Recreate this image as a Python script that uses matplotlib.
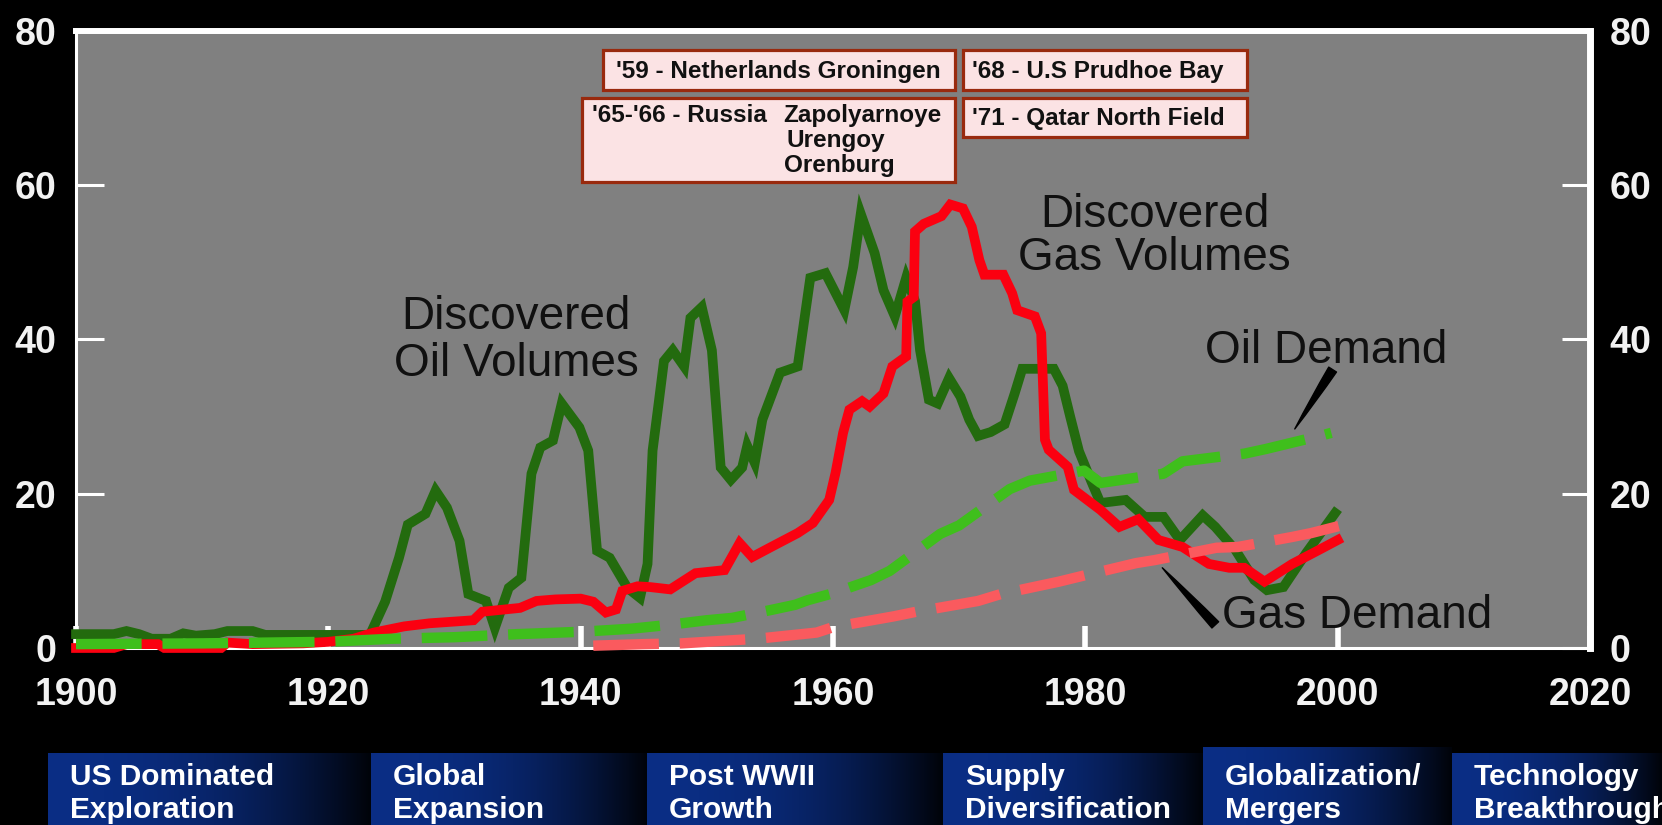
import matplotlib
matplotlib.use("Agg")
import numpy as np
import matplotlib.pyplot as plt
from matplotlib.patches import Rectangle

plt.rcParams['font.family'] = ['Liberation Sans', 'DejaVu Sans']

# ---------------- data ----------------
oil_disc_years = [1900, 1903, 1904, 1905, 1906, 1907.5, 1908.5, 1909.5, 1911, 1912, 1914, 1915, 1920,
                  1923.3, 1924.5, 1925.6, 1926.3, 1927.7, 1928.5, 1929.4, 1930.4, 1931.1, 1932.5, 1933.2,
                  1934.3, 1935.3, 1936.1, 1936.8, 1937.8, 1938.5, 1939.9, 1940.6, 1941.3, 1942.3, 1943.7,
                  1944.7, 1945.3, 1945.7, 1946.2, 1946.6, 1947.3, 1948.2, 1948.7, 1949.6, 1950.4, 1951.1,
                  1951.9, 1952.8, 1953.2, 1953.8, 1954.4, 1955.8, 1957.2, 1958.2, 1959.4, 1960.9, 1961.6,
                  1962.2, 1963.3, 1964.0, 1964.9, 1965.8, 1966.5, 1966.9, 1967.6, 1968.3, 1969.2, 1970.1,
                  1970.8, 1971.5, 1972.5, 1973.6, 1974.4, 1975.0, 1977.5, 1978.2, 1978.8, 1979.5, 1980.5,
                  1981.2, 1983.2, 1984.7, 1986.2, 1987.5, 1989.3, 1990.3, 1991.9, 1993.4, 1994.4, 1995.7,
                  1997.5, 1999.8]
oil_disc_values = [1.8, 1.8, 2.2, 1.8, 1.2, 1.2, 1.9, 1.6, 1.8, 2.2, 2.2, 1.7, 1.7,
                   1.7, 6.0, 11.7, 16.0, 17.4, 20.4, 18.2, 13.9, 7.0, 6.1, 2.6,
                   7.8, 9.1, 22.6, 26.0, 26.9, 31.7, 28.6, 25.6, 12.6, 11.7, 7.8,
                   6.5, 10.9, 25.6, 32.0, 37.2, 38.6, 36.5, 42.8, 44.2, 38.6, 23.4,
                   21.8, 23.4, 26.2, 24.0, 29.6, 35.7, 36.5, 48.0, 48.6, 43.8, 49.4,
                   56.3, 51.2, 46.4, 43.0, 48.0, 45.0, 38.6, 32.2, 31.7, 35.0, 32.6,
                   29.6, 27.5, 28.0, 29.0, 33.0, 36.2, 36.2, 34.0, 30.0, 25.5, 21.5,
                   18.8, 19.2, 17.0, 17.0, 14.0, 17.2, 15.7, 12.7, 8.8, 7.5, 7.9,
                   12.3, 17.5]

gas_disc_years = [1900, 1903, 1904, 1906.5, 1907, 1911.5, 1912, 1914, 1918, 1920, 1922, 1923.6, 1926,
                  1928, 1931.5, 1932.2, 1935.2, 1936.5, 1938, 1940, 1941, 1942, 1942.8, 1943.3, 1944.5,
                  1945.5, 1947.1, 1949.1, 1951.4, 1952.6, 1953.6, 1955.1, 1957.2, 1958.4, 1959.7, 1960.2,
                  1960.8, 1961.3, 1962.3, 1962.9, 1964.0, 1964.7, 1965.8, 1965.9, 1966.4, 1966.5, 1967.2,
                  1968.6, 1969.3, 1970.3, 1971.0, 1971.6, 1972.0, 1973.5, 1974.2, 1974.6, 1976.0, 1976.5,
                  1976.8, 1977.1, 1978.6, 1979.1, 1981.2, 1982.7, 1984.2, 1985.8, 1987.7, 1989.8, 1991.4,
                  1992.6, 1994.2, 1996.4, 1998.5, 2000.0]
gas_disc_values = [0.0, 0.0, 0.5, 0.5, 0.0, 0.0, 0.7, 0.5, 0.6, 0.8, 1.2, 2.0, 2.8,
                   3.2, 3.6, 4.7, 5.2, 6.1, 6.3, 6.4, 6.0, 4.6, 5.0, 7.4, 8.0,
                   7.9, 7.6, 9.7, 10.1, 13.6, 11.8, 13.1, 14.9, 16.2, 19.2, 22.7,
                   27.9, 30.9, 32.0, 31.3, 33.0, 36.5, 37.8, 44.9, 45.5, 54.0, 55.0,
                   56.0, 57.5, 57.0, 54.6, 50.3, 48.4, 48.4, 46.0, 43.8, 43.0, 40.8,
                   27.0, 25.7, 23.5, 20.5, 17.9, 15.7, 16.7, 14.0, 13.1, 10.9, 10.4,
                   10.4, 8.6, 10.9, 12.7, 14.0]

oil_demand_years = [1900, 1910, 1920, 1925, 1930, 1935, 1940, 1944, 1947, 1950, 1952, 1955, 1957, 1958,
                    1960, 1963, 1964.5, 1968.5, 1970, 1974, 1975.6, 1979.9, 1981.2, 1986.2, 1987.7,
                    1992.6, 1994.3, 1998.6, 1999.5]
oil_demand_values = [0.5, 0.6, 0.8, 1.2, 1.4, 1.8, 2.1, 2.5, 3.0, 3.6, 3.9, 4.9, 5.6, 6.2,
                     7.1, 8.8, 10.0, 14.8, 15.9, 20.6, 21.7, 23.0, 21.4, 22.6, 24.2,
                     25.2, 25.8, 27.5, 27.9]

gas_demand_years = [1941, 1945, 1948, 1952, 1954, 1958.7, 1960, 1964.8, 1966.6, 1971.5, 1973.3, 1977.9,
                    1979.4, 1984, 1985.5, 1990.4, 1992.1, 1996.4, 1997.9, 2000.3]
gas_demand_values = [0.3, 0.5, 0.6, 1.0, 1.2, 2.0, 2.7, 4.1, 4.7, 6.1, 7.0, 8.6,
                     9.2, 11.0, 11.4, 13.0, 13.1, 14.4, 14.9, 15.9]

x_ticks = [1900, 1920, 1940, 1960, 1980, 2000, 2020]
y_ticks = [0, 20, 40, 60, 80]

era_labels = ["US Dominated\nExploration", "Global\nExpansion", "Post WWII\nGrowth",
              "Supply\nDiversification", "Globalization/\nMergers", "Technology\nBreakthrough"]

# ---------------- figure ----------------
W, H = 1662, 825
fig = plt.figure(figsize=(W / 100, H / 100), dpi=100, facecolor='black')


def fx(px):
    return px / W


def fy(py):
    return 1 - py / H


ax_l, ax_r, ax_t, ax_b = 76, 1590, 31, 648
ax = fig.add_axes([fx(ax_l), fy(ax_b), fx(ax_r - ax_l), (ax_b - ax_t) / H])
ax.set_facecolor('#808080')
ax.set_xlim(1900, 2020)
ax.set_ylim(0, 80)

dash = (0, (6.3, 2.0))
ax.plot(oil_disc_years, oil_disc_values, color='#236b0e', lw=7.0, solid_joinstyle='miter',
        clip_on=False, zorder=3)
ax.plot(gas_disc_years, gas_disc_values, color='#fb0010', lw=7.0, solid_joinstyle='miter',
        clip_on=False, zorder=3.1)
ax.plot(oil_demand_years, oil_demand_values, color='#3fbf1c', lw=7.5, linestyle=dash,
        dash_capstyle='butt', clip_on=False, zorder=3.2)
ax.plot(gas_demand_years, gas_demand_values, color='#fa5a5e', lw=7.5, linestyle=dash,
        dash_capstyle='butt', clip_on=False, zorder=3.3)

# spines
for s in ax.spines.values():
    s.set_color('white')
ax.spines['left'].set_linewidth(2.2)
ax.spines['bottom'].set_linewidth(2.2)
ax.spines['top'].set_linewidth(4.3)
ax.spines['right'].set_linewidth(5.0)
ax.spines['bottom'].set_zorder(1.5)

ax.set_xticks(x_ticks)
ax.set_yticks(y_ticks)
ax.set_xticklabels([str(v) for v in x_ticks])
ax.set_yticklabels([str(v) for v in y_ticks])
ax.tick_params(axis='x', direction='in', length=16, width=4, color='white',
               labelcolor='#f2f2f2', labelsize=27, pad=21)
ax.tick_params(axis='y', direction='in', length=20, width=2.2, color='white',
               labelcolor='#f2f2f2', labelsize=27, pad=14, left=True, right=True,
               labelleft=True, labelright=True)
for t in ax.yaxis.get_major_ticks():
    t.label1.set_fontweight('bold')
    t.label2.set_fontweight('bold')
for t in ax.xaxis.get_major_ticks():
    t.label1.set_fontweight('bold')
    t.tick1line.set_zorder(5)

# curve labels
label_kw = dict(fontsize=33, color='#101010', ha='center', va='baseline', zorder=6)
ax.text(1934.9, 41.4, "Discovered", **label_kw)
ax.text(1934.9, 35.3, "Oil Volumes", **label_kw)
ax.text(1985.5, 54.6, "Discovered", **label_kw)
ax.text(1985.5, 49.0, "Gas Volumes", **label_kw)
ax.text(1999.1, 37.0, "Oil Demand", **label_kw)
ax.text(1990.8, 2.6, "Gas Demand", fontsize=33, color='#101010', ha='left', va='baseline', zorder=6)

arrow_kw = dict(arrowstyle="wedge,tail_width=0.55,shrink_factor=0.6", fc='black', ec='black',
                mutation_scale=12, shrinkA=0, shrinkB=0)
ax.annotate("", xy=(1996.6, 28.4), xytext=(1999.6, 36.1), arrowprops=arrow_kw, zorder=6)
ax.annotate("", xy=(1986.1, 10.4), xytext=(1990.3, 3.0), arrowprops=arrow_kw, zorder=6)

# discovery boxes (pixel layout)
box_fc = '#fbe3e4'
box_ec = '#992a0e'
boxes = [(603, 50, 955, 90), (963, 50, 1247, 90), (582, 98, 955, 182), (963, 98, 1247, 137)]
for (l, t, r, b) in boxes:
    fig.add_artist(Rectangle((fx(l), fy(b)), fx(r - l), (b - t) / H, transform=fig.transFigure,
                             facecolor=box_fc, edgecolor=box_ec, lw=2.3, zorder=10))
btxt = dict(fontsize=17.5, fontweight='bold', color='#111111', ha='left', va='baseline', zorder=11)
fig.text(fx(616), fy(78), "'59 - Netherlands Groningen", **btxt)
fig.text(fx(972), fy(78), "'68 - U.S Prudhoe Bay", **btxt)
fig.text(fx(592), fy(122), "'65-'66 - Russia", **btxt)
fig.text(fx(783), fy(122), "Zapolyarnoye", **btxt)
fig.text(fx(786), fy(147), "Urengoy", **btxt)
fig.text(fx(784), fy(172), "Orenburg", **btxt)
fig.text(fx(972), fy(125), "'71 - Qatar North Field", **btxt)

# era boxes along bottom
era_bounds = [(48, 753, 371), (371, 753, 647), (647, 753, 943), (943, 753, 1203),
              (1203, 747, 1452), (1452, 753, 1662)]
blue = np.array([0.04, 0.18, 0.52])
t = np.linspace(0, 1, 256)
fade = 1 - 0.93 * t ** 2.2
grad = (blue[None, :] * fade[:, None])[None, :, :]
for (l, top, r), lab in zip(era_bounds, era_labels):
    bax = fig.add_axes([fx(l), 0, fx(r - l), 1 - top / H])
    bax.imshow(grad, aspect='auto', extent=[0, 1, 0, 1], interpolation='bilinear')
    bax.set_axis_off()
    fig.text(fx(l + 22), fy(763), lab, fontsize=21.5, fontweight='bold', color='white',
             ha='left', va='top', linespacing=1.25, zorder=12)

fig.savefig('out.png', dpi=100, facecolor='black')
